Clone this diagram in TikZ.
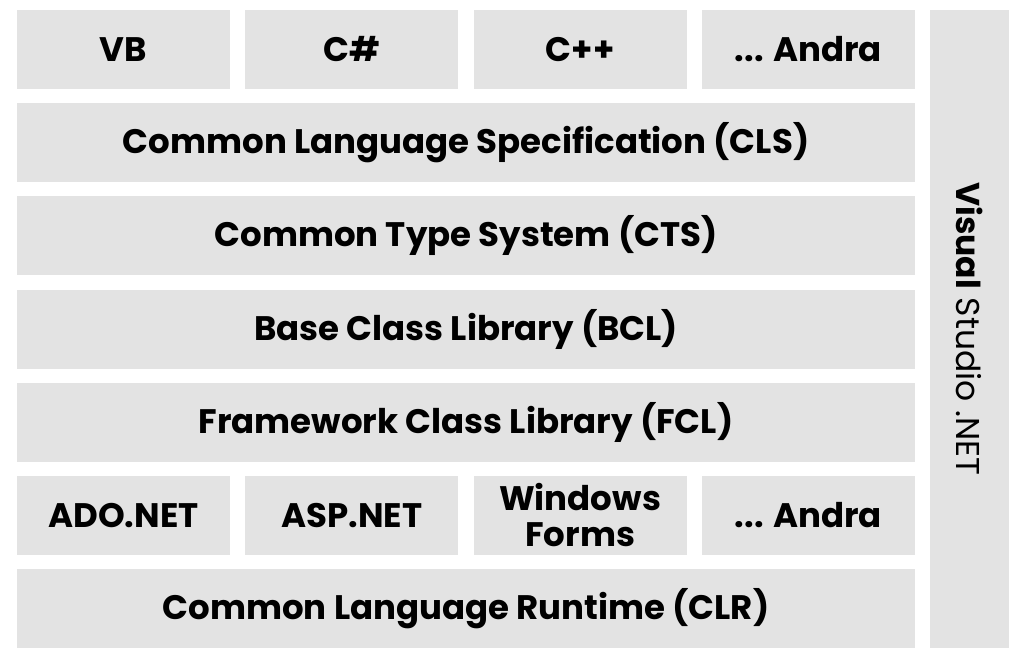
\documentclass[tikz,border=0pt]{standalone}
\usepackage{fontspec}
\setmainfont{Poppins}
\usepackage{xcolor}
\usetikzlibrary{positioning}
\definecolor{layergray}{HTML}{E3E3E3}

\begin{document}
\begin{tikzpicture}[
  x=1pt, y=1pt,
  node distance=14.2pt and 15.3pt,
  every node/.style={fill=layergray, inner sep=0pt, outer sep=0pt, align=center, font=\fontsize{34}{36}\selectfont\bfseries},
  smallbox/.style={minimum width=213pt, minimum height=79pt},
  widebox/.style={minimum width=898pt, minimum height=79pt},
  sidebox/.style={minimum width=79pt, minimum height=638pt}
]

% Margins
\useasboundingbox (0,0) rectangle (1024,-662);

% Languages
\node[smallbox] (vb) at (123.5,-49.5) {VB};
\node[smallbox, right=of vb] (csharp) {C\#};
\node[smallbox, right=of csharp] (cpp) {C++};
\node[smallbox, right=of cpp] (lang_other) {... Andra};

% Layers
\node[widebox, below=of vb.south west, anchor=north west] (cls) {Common Language Specification (CLS)};
\node[widebox, below=of cls] (cts) {Common Type System (CTS)};
\node[widebox, below=of cts] (bcl) {Base Class Library (BCL)};
\node[widebox, below=of bcl] (fcl) {Framework Class Library (FCL)};

% Libraries
\node[smallbox, below=of fcl.south west, anchor=north west] (ado) {ADO.NET};
\node[smallbox, right=of ado] (asp) {ASP.NET};
\node[smallbox, right=of asp] (winforms) {Windows\\Forms};
\node[smallbox, right=of winforms] (lib_other) {... Andra};

% Runtime
\node[widebox, below=of ado.south west, anchor=north west] (clr) {Common Language Runtime (CLR)};

% Visual Studio
\node[sidebox, anchor=north west] (vs) at ([xshift=15pt] lang_other.north east) {};
\node[rotate=-90, fill=none, font=\fontsize{33}{33}\selectfont] at (vs.center) {\textbf{Visual} Studio .NET};

\end{tikzpicture}
\end{document}
